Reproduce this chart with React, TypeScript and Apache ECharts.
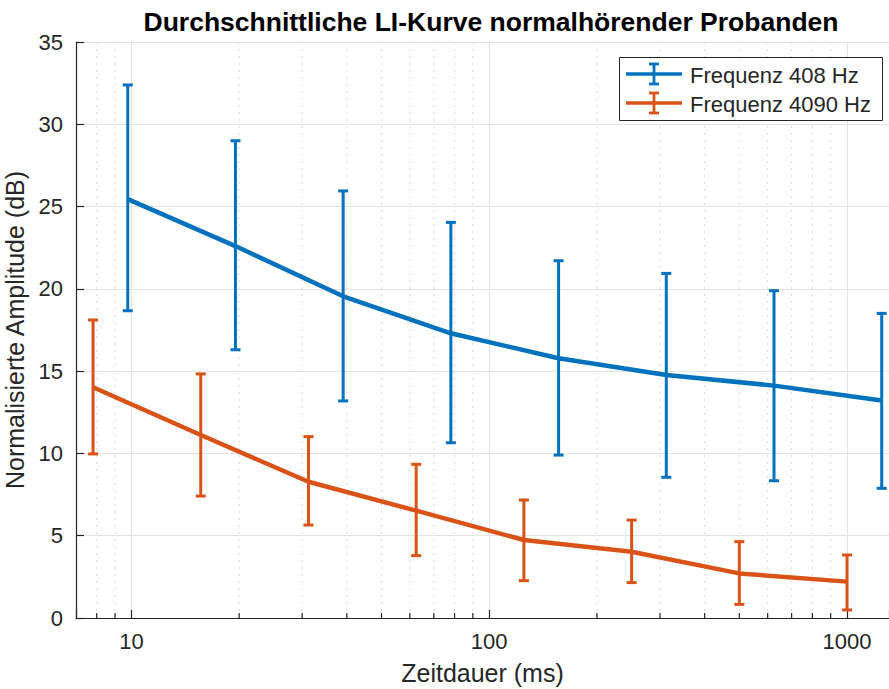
import React, { useEffect, useRef } from "react";
import * as echarts from "echarts";

const blueX = [9.765625, 19.53125, 39.0625, 78.125, 156.25, 312.5, 625, 1250];
const blueMean = [25.45, 22.6, 19.55, 17.3, 15.78, 14.77, 14.12, 13.21];
const blueLow = [18.67, 16.3, 13.19, 10.65, 9.9, 8.55, 8.34, 7.88];
const blueHigh = [32.39, 29.0, 25.95, 24.04, 21.71, 20.94, 19.89, 18.51];

const orangeX = [7.8125, 15.625, 31.25, 62.5, 125, 250, 500, 1000];
const orangeMean = [14.02, 11.12, 8.28, 6.52, 4.74, 4.03, 2.71, 2.21];
const orangeLow = [9.97, 7.41, 5.65, 3.79, 2.27, 2.15, 0.83, 0.49];
const orangeHigh = [18.11, 14.83, 11.02, 9.34, 7.17, 5.95, 4.64, 3.83];

const majorTickLabels = [10, 100, 1000];
const minorTicks = [8, 9, 20, 30, 40, 50, 60, 70, 80, 90, 200, 300, 400, 500, 600, 700, 800, 900];

const seriesNames = ["Frequenz 408 Hz", "Frequenz 4090 Hz"];
const BLUE = "#0072BD";
const ORANGE = "#D95319";
const AXIS = "#262626";
const GRID = "#e3e3e3";
const FONT = "'Liberation Sans', Arial, Helvetica, sans-serif";

const Y_MIN = 0;
const Y_MAX = 35;

function errorSeries(name: string, xs: number[], lo: number[], hi: number[], color: string) {
  return {
    name,
    type: "custom",
    silent: true,
    z: 4,
    encode: { x: 0, y: [1, 2] },
    data: xs.map((x, i) => [x, lo[i], hi[i]]),
    renderItem: (params: any, api: any) => {
      const x = api.value(0);
      const pLo = api.coord([x, api.value(1)]);
      const pHi = api.coord([x, api.value(2)]);
      const cap = 5;
      const style = { stroke: color, lineWidth: 3 };
      return {
        type: "group",
        children: [
          { type: "line", shape: { x1: pLo[0], y1: pLo[1], x2: pHi[0], y2: pHi[1] }, style },
          { type: "line", shape: { x1: pLo[0] - cap, y1: pLo[1], x2: pLo[0] + cap, y2: pLo[1] }, style },
          { type: "line", shape: { x1: pHi[0] - cap, y1: pHi[1], x2: pHi[0] + cap, y2: pHi[1] }, style },
        ],
      };
    },
  };
}

export default function App() {
  const ref = useRef<HTMLDivElement>(null);
  useEffect(() => {
    if (!ref.current) return;
    const chart = echarts.init(ref.current, undefined, { renderer: "svg" });
    const legendRows = [
      { name: seriesNames[0], color: BLUE, y: 74 },
      { name: seriesNames[1], color: ORANGE, y: 103 },
    ];
    const legendGraphics: any[] = [
      {
        type: "rect",
        left: 619,
        top: 57,
        shape: { width: 263, height: 63 },
        style: { fill: "#ffffff", stroke: AXIS, lineWidth: 1 },
        z: 100,
      },
    ];
    legendRows.forEach((r) => {
      legendGraphics.push(
        { type: "line", shape: { x1: 626, y1: r.y, x2: 682, y2: r.y }, style: { stroke: r.color, lineWidth: 3.5 }, z: 101 },
        { type: "line", shape: { x1: 654, y1: r.y - 10, x2: 654, y2: r.y + 10 }, style: { stroke: r.color, lineWidth: 2.8 }, z: 101 },
        { type: "line", shape: { x1: 649, y1: r.y - 10, x2: 659, y2: r.y - 10 }, style: { stroke: r.color, lineWidth: 2.8 }, z: 101 },
        { type: "line", shape: { x1: 649, y1: r.y + 10, x2: 659, y2: r.y + 10 }, style: { stroke: r.color, lineWidth: 2.8 }, z: 101 },
        {
          type: "text",
          x: 690,
          y: r.y + 1,
          style: { text: r.name, fill: AXIS, font: `22px ${FONT}`, verticalAlign: "middle", align: "left" },
          z: 101,
        }
      );
    });

    chart.setOption({
      animation: false,
      backgroundColor: "#ffffff",
      title: {
        text: "Durchschnittliche LI-Kurve normalhörender Probanden",
        left: 486,
        top: 3,
        textAlign: "center",
        textStyle: { fontFamily: FONT, fontSize: 26.5, fontWeight: "bold", color: "#000000" },
      },
      grid: { left: 76, right: 0, top: 42, bottom: 71, containLabel: false, outerBoundsMode: "none" },
      xAxis: {
        type: "log",
        logBase: 10,
        min: 7,
        max: 1310,
        name: "Zeitdauer (ms)",
        nameLocation: "middle",
        nameGap: 42,
        nameTextStyle: { fontFamily: FONT, fontSize: 25, color: AXIS },
        axisLine: { show: true, lineStyle: { color: AXIS, width: 1.2 } },
        axisTick: { show: true, inside: true, length: 8, lineStyle: { color: AXIS, width: 1.2 } },
        axisLabel: {
          fontFamily: FONT,
          fontSize: 22,
          color: AXIS,
          margin: 12,
          formatter: (v: number) => {
            const r = Math.round(v);
            return majorTickLabels.includes(r) && Math.abs(v - r) < 1e-6 * r + 1e-6 ? String(r) : "";
          },
        },
        splitLine: { show: true, lineStyle: { color: GRID, width: 1 } },
      },
      yAxis: {
        type: "value",
        min: Y_MIN,
        max: Y_MAX,
        interval: 5,
        name: "Normalisierte Amplitude (dB)",
        nameLocation: "middle",
        nameGap: 42,
        nameTextStyle: { fontFamily: FONT, fontSize: 25, color: AXIS },
        axisLine: { show: true, lineStyle: { color: AXIS, width: 1.2 } },
        axisTick: { show: true, inside: true, length: 8, lineStyle: { color: AXIS, width: 1.2 } },
        axisLabel: { fontFamily: FONT, fontSize: 22, color: AXIS, margin: 13 },
        splitLine: { show: true, lineStyle: { color: GRID, width: 1 } },
      },
      graphic: legendGraphics,
      series: [
        {
          name: "minor-grid",
          type: "custom",
          silent: true,
          z: 1,
          encode: { x: 0, y: 1 },
          data: minorTicks.map((v) => [v, Y_MIN]),
          renderItem: (params: any, api: any) => {
            const v = api.value(0);
            const top = api.coord([v, Y_MAX]);
            const bot = api.coord([v, Y_MIN]);
            return {
              type: "group",
              children: [
                {
                  type: "line",
                  shape: { x1: top[0], y1: top[1], x2: bot[0], y2: bot[1] },
                  style: { stroke: "#d9d9d9", lineWidth: 1, lineDash: [2, 5] },
                },
                {
                  type: "line",
                  shape: { x1: bot[0], y1: bot[1], x2: bot[0], y2: bot[1] - 5 },
                  style: { stroke: AXIS, lineWidth: 1.2 },
                },
              ],
            };
          },
        },
        {
          name: seriesNames[0],
          type: "line",
          z: 5,
          symbol: "none",
          data: blueX.map((x, i) => [x, blueMean[i]]),
          lineStyle: { color: BLUE, width: 4.5 },
          itemStyle: { color: BLUE },
        },
        errorSeries(seriesNames[0] + " Fehler", blueX, blueLow, blueHigh, BLUE),
        {
          name: seriesNames[1],
          type: "line",
          z: 5,
          symbol: "none",
          data: orangeX.map((x, i) => [x, orangeMean[i]]),
          lineStyle: { color: ORANGE, width: 4.5 },
          itemStyle: { color: ORANGE },
        },
        errorSeries(seriesNames[1] + " Fehler", orangeX, orangeLow, orangeHigh, ORANGE),
      ],
    });
    return () => chart.dispose();
  }, []);
  return <div ref={ref} style={{ width: 889, height: 689, position: "fixed", left: 0, top: 0 }} />;
}
